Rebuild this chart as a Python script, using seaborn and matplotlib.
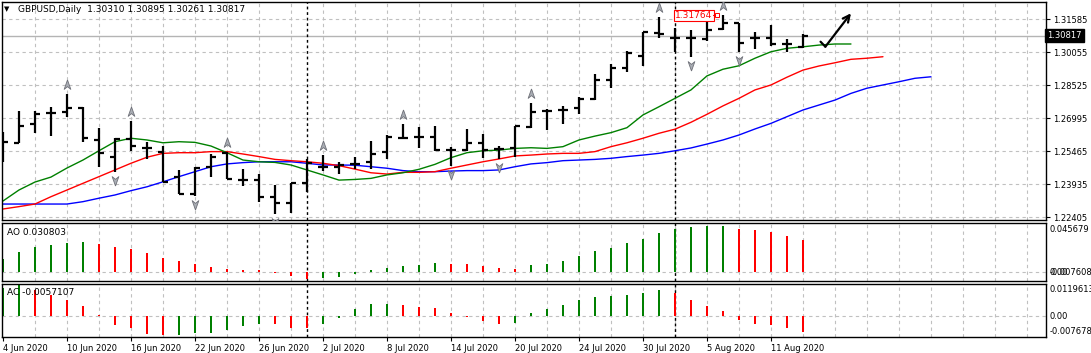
import numpy as np
import matplotlib
matplotlib.use("Agg")
import matplotlib.pyplot as plt
import matplotlib.transforms as mtransforms
from matplotlib.path import Path
import seaborn as sns

# ----------------------------------------
# Dados (GBPUSD diário, 4 Jun - 13 Aug 2020)
# ----------------------------------------
abertura = [1.25910, 1.25870, 1.26717, 1.27255, 1.27301, 1.27459, 1.25989, 1.25215, 1.26021, 1.25632,
            1.25446, 1.24259, 1.23485, 1.24751, 1.25372, 1.24134, 1.24134, 1.23360, 1.23082, 1.24009,
            1.24751, 1.24751, 1.24876, 1.24955, 1.25419, 1.26096, 1.26142, 1.26142, 1.25525, 1.25525,
            1.25836, 1.25572, 1.25604, 1.26606, 1.27333, 1.27380, 1.27459, 1.27876, 1.28771, 1.29313,
            1.29897, 1.30936, 1.30732, 1.30732, 1.30672, 1.31121, 1.31400, 1.30704, 1.30704, 1.30440,
            1.30310]
maxima = [1.26374, 1.27333, 1.27333, 1.27533, 1.28108, 1.27533, 1.26559, 1.26068, 1.26870, 1.25910,
          1.25725, 1.24598, 1.24751, 1.25340, 1.25446, 1.24630, 1.24413, 1.23902, 1.24009, 1.25094,
          1.25293, 1.24983, 1.25215, 1.25943, 1.26221, 1.26731, 1.26606, 1.26652, 1.25678, 1.26485,
          1.26253, 1.25725, 1.26638, 1.27690, 1.27412, 1.27565, 1.27996, 1.29035, 1.29499, 1.30115,
          1.31010, 1.31706, 1.31168, 1.31089, 1.31680, 1.31764, 1.31400, 1.31010, 1.31321, 1.30672,
          1.30895]
minima = [1.24983, 1.25836, 1.26300, 1.26174, 1.27041, 1.25882, 1.24723, 1.24491, 1.25493, 1.25094,
          1.24055, 1.23485, 1.23392, 1.24287, 1.24181, 1.23870, 1.23128, 1.22544, 1.22590, 1.23592,
          1.24565, 1.24413, 1.24630, 1.24630, 1.25094, 1.26068, 1.25632, 1.25493, 1.24797, 1.25493,
          1.25168, 1.25108, 1.25215, 1.26531, 1.26453, 1.26717, 1.27180, 1.27843, 1.28386, 1.29156,
          1.29434, 1.30732, 1.30055, 1.29823, 1.30579, 1.31089, 1.30083, 1.30194, 1.30361, 1.30055,
          1.30261]
fechamento = [1.25910, 1.26638, 1.27180, 1.27255, 1.27459, 1.26068, 1.25400, 1.26035, 1.25725, 1.25604,
              1.24055, 1.23485, 1.24677, 1.25215, 1.24181, 1.24134, 1.23360, 1.23082, 1.24009, 1.24909,
              1.24751, 1.24830, 1.24876, 1.25340, 1.26142, 1.26096, 1.26142, 1.25525, 1.25525, 1.25836,
              1.25525, 1.25572, 1.26638, 1.27273, 1.27333, 1.27380, 1.27890, 1.28771, 1.29313, 1.30009,
              1.30982, 1.30890, 1.30732, 1.30732, 1.31089, 1.31400, 1.30500, 1.30704, 1.30440, 1.30440,
              1.30817]

# Alligator (linhas deslocadas para frente)
labios = [1.2316, 1.2367, 1.2404, 1.2427, 1.2469, 1.2506, 1.2549, 1.2591, 1.2607, 1.2599,
          1.2586, 1.2591, 1.2588, 1.2571, 1.2540, 1.2506, 1.2498, 1.2495, 1.2483, 1.2460,
          1.2437, 1.2413, 1.2416, 1.2421, 1.2437, 1.2447, 1.2463, 1.2486, 1.2517, 1.2540,
          1.2549, 1.2552, 1.2560, 1.2563, 1.2560, 1.2568, 1.2599, 1.2617, 1.2633, 1.2656,
          1.2715, 1.2753, 1.2792, 1.2831, 1.2896, 1.2927, 1.2943, 1.2978, 1.3008, 1.3024,
          1.3031, 1.3039, 1.3044, 1.3044]
dentes = [1.2279, 1.2290, 1.2302, 1.2336, 1.2367, 1.2398, 1.2429, 1.2460, 1.2491, 1.2519,
          1.2537, 1.2540, 1.2540, 1.2545, 1.2545, 1.2534, 1.2522, 1.2509, 1.2503, 1.2498,
          1.2491, 1.2480, 1.2464, 1.2447, 1.2441, 1.2449, 1.2449, 1.2452, 1.2468, 1.2483,
          1.2498, 1.2511, 1.2525, 1.2529, 1.2534, 1.2537, 1.2537, 1.2545, 1.2568, 1.2586,
          1.2607, 1.2630, 1.2649, 1.2681, 1.2718, 1.2757, 1.2792, 1.2831, 1.2854, 1.2890,
          1.2923, 1.2942, 1.2957, 1.2973, 1.2978, 1.2985]
mandibula = [1.2302, 1.2302, 1.2302, 1.2302, 1.2302, 1.2313, 1.2329, 1.2344, 1.2364, 1.2382,
             1.2405, 1.2429, 1.2452, 1.2475, 1.2488, 1.2494, 1.2498, 1.2498, 1.2498, 1.2491,
             1.2483, 1.2483, 1.2482, 1.2475, 1.2468, 1.2457, 1.2452, 1.2452, 1.2455, 1.2457,
             1.2457, 1.2460, 1.2475, 1.2488, 1.2494, 1.2503, 1.2506, 1.2509, 1.2514, 1.2522,
             1.2529, 1.2537, 1.2549, 1.2562, 1.2580, 1.2599, 1.2622, 1.2650, 1.2676, 1.2707,
             1.2738, 1.2761, 1.2784, 1.2815, 1.2839, 1.2854, 1.2869, 1.2885, 1.2892]

fractais_alta = [4, 8, 14, 20, 25, 33, 41, 45]
fractais_baixa = [7, 12, 17, 28, 31, 43, 46]

ao = [0.0126, 0.0189, 0.0238, 0.0258, 0.0278, 0.0288, 0.0268, 0.0238, 0.0218, 0.0179,
      0.0139, 0.0109, 0.0079, 0.0050, 0.0030, 0.0023, 0.0017, -0.0007, -0.0040, -0.0060,
      -0.0056, -0.0046, -0.0020, 0.0017, 0.0040, 0.0060, 0.0070, 0.0089, 0.0080, 0.0078,
      0.0063, 0.0040, 0.0030, 0.0070, 0.0080, 0.0109, 0.0152, 0.0199, 0.0228, 0.0278,
      0.0318, 0.0377, 0.0407, 0.0427, 0.0440, 0.0442, 0.0407, 0.0397, 0.0387, 0.0348,
      0.0308]
ac = [0.0103, 0.0115, 0.0096, 0.0077, 0.0061, 0.0039, 0.0004, -0.0033, -0.0044, -0.0063,
      -0.0069, -0.0067, -0.0061, -0.0060, -0.0049, -0.0037, -0.0027, -0.0028, -0.0041, -0.0042,
      -0.0027, -0.0006, 0.0027, 0.0046, 0.0047, 0.0042, 0.0034, 0.0030, 0.0011, -0.0002,
      -0.0018, -0.0029, -0.0025, 0.0011, 0.0027, 0.0042, 0.0061, 0.0072, 0.0074, 0.0080,
      0.0084, 0.0095, 0.0084, 0.0061, 0.0038, 0.0019, -0.0015, -0.0029, -0.0030, -0.0044,
      -0.0057]

niveis_preco = [1.31585, 1.30055, 1.28525, 1.26995, 1.25465, 1.23935, 1.22405]
rotulos_datas = ["4 Jun 2020", "10 Jun 2020", "16 Jun 2020", "22 Jun 2020", "26 Jun 2020",
                 "2 Jul 2020", "8 Jul 2020", "14 Jul 2020", "20 Jul 2020", "24 Jul 2020",
                 "30 Jul 2020", "5 Aug 2020", "11 Aug 2020"]
preco_atual = 1.30817
maxima_rotulo = 1.31764

# ----------------------------------------
# Figura
# ----------------------------------------
sns.set_style("white")
plt.rcParams['font.family'] = ['DejaVu Sans']
plt.rcParams['text.color'] = 'black'
plt.rcParams['xtick.color'] = 'black'
plt.rcParams['ytick.color'] = 'black'

W, H = 1091, 353
fig = plt.figure(figsize=(W / 100, H / 100), dpi=100)

def eixo(top, bottom):
    return fig.add_axes([2 / W, (H - bottom) / H, 1044 / W, (bottom - top) / H])

ax = eixo(2, 220)
ax_ao = eixo(222.5, 281)
ax_ac = eixo(283.7, 337.3)

idx = np.arange(len(fechamento))
xlim = (-0.06, 65.19)
cinza = "#c0c0c0"
verde, vermelho = "#008000", "#ff0000"

for a in (ax, ax_ao, ax_ac):
    a.set_xlim(*xlim)
    for k in range(2, 66, 2):
        a.axvline(k, color=cinza, lw=0.8, ls=(0, (3, 3)), zorder=0)
    for lado in a.spines.values():
        lado.set_color("black")
        lado.set_linewidth(1)
    a.tick_params(axis="x", bottom=False, labelbottom=False)

# painel principal
ax.set_ylim(1.22280, 1.32387)
for p in niveis_preco:
    ax.axhline(p, color=cinza, lw=0.8, ls=(0, (3, 3)), zorder=0)
ax.axhline(preco_atual, color="#b4b4b4", lw=1, zorder=0)

ax.vlines(idx, minima, maxima, color="black", lw=1.6, zorder=3)
ax.hlines(abertura, idx - 0.3, idx, color="black", lw=1.6, zorder=3)
ax.hlines(fechamento, idx, idx + 0.3, color="black", lw=1.6, zorder=3)

sns.lineplot(x=np.arange(len(mandibula)), y=mandibula, ax=ax, color="#0000ff", lw=1)
sns.lineplot(x=np.arange(len(dentes)), y=dentes, ax=ax, color="#ff0000", lw=1)
sns.lineplot(x=np.arange(len(labios)), y=labios, ax=ax, color="#008000", lw=1)

seta_cima = Path([(0, 1), (0.6, -0.7), (0, -0.2), (-0.6, -0.7), (0, 1)])
seta_baixo = Path([(0, -1), (0.6, 0.7), (0, 0.2), (-0.6, 0.7), (0, -1)])
tr_cima = mtransforms.offset_copy(ax.transData, fig=fig, y=9, units="dots")
tr_baixo = mtransforms.offset_copy(ax.transData, fig=fig, y=-8, units="dots")
ax.plot(fractais_alta, [maxima[i] for i in fractais_alta], ls="none", marker=seta_cima,
        ms=8, mfc="#a9adb4", mec="#6e7078", mew=0.6, transform=tr_cima, zorder=4)
ax.plot(fractais_baixa, [minima[i] for i in fractais_baixa], ls="none", marker=seta_baixo,
        ms=8, mfc="#a9adb4", mec="#6e7078", mew=0.6, transform=tr_baixo, zorder=4)

# seta desenhada à mão
ax.plot([51.1, 51.4], [1.30546, 1.30315], color="black", lw=1.6)
ax.annotate("", xy=(53.0, 1.31863), xytext=(51.4, 1.30315),
            arrowprops=dict(arrowstyle="->", lw=1.6, color="black", mutation_scale=12,
                            shrinkA=0, shrinkB=0))

# rótulo da máxima
ax.text(44.35, maxima_rotulo, "1.31764", color="red", fontsize=6.5, ha="right", va="center",
        bbox=dict(boxstyle="square,pad=0.15", fc="white", ec="red", lw=0.8), zorder=5)
ax.plot([44.4, 44.6], [maxima_rotulo, maxima_rotulo], color="red", lw=0.8, zorder=5)
ax.plot([44.6], [maxima_rotulo], marker="s", ms=2.5, mfc="white", mec="red", mew=0.7, zorder=5)

ax.yaxis.tick_right()
ax.set_yticks(niveis_preco)
ax.set_yticklabels([f"{p:.5f}" for p in niveis_preco])
ax.tick_params(axis="y", right=True, length=3, width=0.8, pad=2, labelsize=6)
ax.text(1.0015, (preco_atual - 1.22280) / (1.32387 - 1.22280), f"{preco_atual:.5f}",
        transform=ax.transAxes, color="white", fontsize=6, va="center", ha="left",
        bbox=dict(boxstyle="square,pad=0.25", fc="black", ec="black"))

fig.text(4 / W, 1 - 9.5 / H, "▼", fontsize=5, va="center", ha="left")
fig.text(18 / W, 1 - 9.5 / H, "GBPUSD,Daily  1.30310 1.30895 1.30261 1.30817",
         fontsize=6.5, va="center", ha="left")

# AO
cores_ao = [verde] + [verde if ao[i] > ao[i - 1] else vermelho for i in range(1, len(ao))]
ax_ao.bar(idx, ao, width=0.15, color=cores_ao, linewidth=0, edgecolor="none", zorder=2)
ax_ao.set_ylim(-0.0083, 0.0473)
ax_ao.axhline(0, color=cinza, lw=0.8, ls=(0, (3, 3)), zorder=0)
ax_ao.set_yticks([])
ax_ao.text(0.005, 0.83, "AO 0.030803", transform=ax_ao.transAxes, fontsize=6.5, va="center")
ax_ao.text(1.003, 0.88, "0.045679", transform=ax_ao.transAxes, fontsize=6, va="center")
ax_ao.text(1.003, 0.137, "-0.007608", transform=ax_ao.transAxes, fontsize=6, va="center")
ax_ao.text(1.003, 0.137, "0.00", transform=ax_ao.transAxes, fontsize=6, va="center")

# AC
cores_ac = [verde] + [verde if ac[i] > ac[i - 1] else vermelho for i in range(1, len(ac))]
ax_ac.bar(idx, ac, width=0.15, color=cores_ac, linewidth=0, edgecolor="none", zorder=2)
ax_ac.set_ylim(-0.007678, 0.0119613)
ax_ac.axhline(0, color=cinza, lw=0.8, ls=(0, (3, 3)), zorder=0)
ax_ac.set_yticks([])
ax_ac.text(0.005, 0.83, "AC -0.0057107", transform=ax_ac.transAxes, fontsize=6.5, va="center")
ax_ac.text(1.003, 0.89, "0.0119613", transform=ax_ac.transAxes, fontsize=6, va="center")
ax_ac.text(1.003, 0.397, "0.00", transform=ax_ac.transAxes, fontsize=6, va="center")
ax_ac.text(1.003, 0.11, "-0.007678", transform=ax_ac.transAxes, fontsize=6, va="center")

ax_ac.set_xticks(np.arange(0, 4 * len(rotulos_datas), 4))
ax_ac.set_xticklabels(rotulos_datas)
ax_ac.tick_params(axis="x", bottom=True, labelbottom=True, length=3, width=0.8, pad=2, labelsize=6)
for r in ax_ac.get_xticklabels():
    r.set_ha("left")

# linhas verticais tracejadas
for a in (ax, ax_ao, ax_ac):
    for k in (19, 42):
        a.axvline(k, color="black", lw=1, ls=(0, (2, 2)), zorder=1)

fig.savefig("out.png", dpi=100)
